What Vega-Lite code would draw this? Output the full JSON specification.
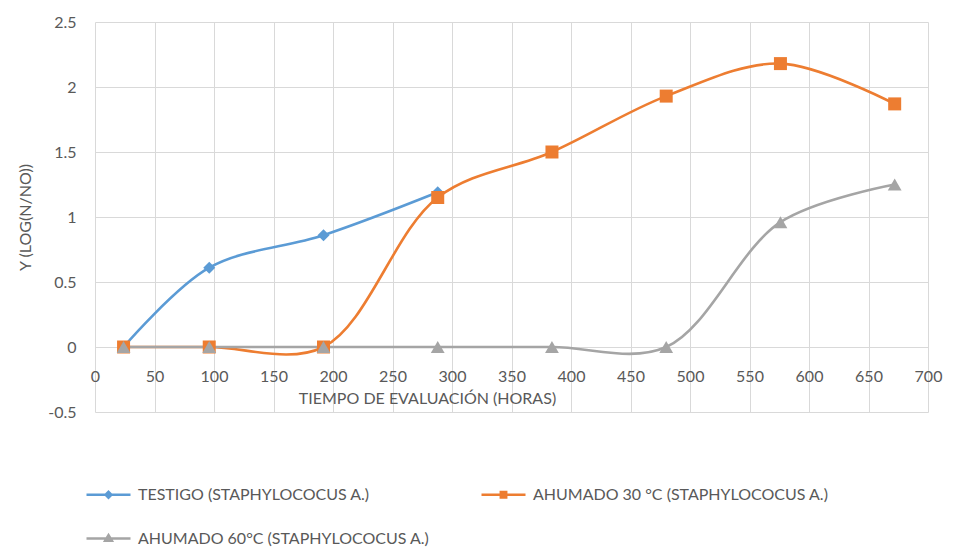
{
  "$schema": "https://vega.github.io/schema/vega-lite/v6.json",
  "width": 833,
  "height": 390,
  "autosize": "none",
  "padding": {"left": 95, "top": 22, "right": 30, "bottom": 138},
  "background": "white",
  "data": {
    "values": [
      {"serie": "TESTIGO (STAPHYLOCOCUS A.)", "horas": 24, "y": 0},
      {"serie": "TESTIGO (STAPHYLOCOCUS A.)", "horas": 96, "y": 0.61},
      {"serie": "TESTIGO (STAPHYLOCOCUS A.)", "horas": 192, "y": 0.86},
      {"serie": "TESTIGO (STAPHYLOCOCUS A.)", "horas": 288, "y": 1.19},
      {"serie": "AHUMADO 30 °C  (STAPHYLOCOCUS A.)", "horas": 24, "y": 0},
      {"serie": "AHUMADO 30 °C  (STAPHYLOCOCUS A.)", "horas": 96, "y": 0},
      {"serie": "AHUMADO 30 °C  (STAPHYLOCOCUS A.)", "horas": 192, "y": 0},
      {"serie": "AHUMADO 30 °C  (STAPHYLOCOCUS A.)", "horas": 288, "y": 1.15},
      {"serie": "AHUMADO 30 °C  (STAPHYLOCOCUS A.)", "horas": 384, "y": 1.5},
      {"serie": "AHUMADO 30 °C  (STAPHYLOCOCUS A.)", "horas": 480, "y": 1.93},
      {"serie": "AHUMADO 30 °C  (STAPHYLOCOCUS A.)", "horas": 576, "y": 2.18},
      {"serie": "AHUMADO 30 °C  (STAPHYLOCOCUS A.)", "horas": 672, "y": 1.87},
      {"serie": "AHUMADO 60°C (STAPHYLOCOCUS A.)", "horas": 24, "y": 0},
      {"serie": "AHUMADO 60°C (STAPHYLOCOCUS A.)", "horas": 96, "y": 0},
      {"serie": "AHUMADO 60°C (STAPHYLOCOCUS A.)", "horas": 192, "y": 0},
      {"serie": "AHUMADO 60°C (STAPHYLOCOCUS A.)", "horas": 288, "y": 0},
      {"serie": "AHUMADO 60°C (STAPHYLOCOCUS A.)", "horas": 384, "y": 0},
      {"serie": "AHUMADO 60°C (STAPHYLOCOCUS A.)", "horas": 480, "y": 0},
      {"serie": "AHUMADO 60°C (STAPHYLOCOCUS A.)", "horas": 576, "y": 0.96},
      {"serie": "AHUMADO 60°C (STAPHYLOCOCUS A.)", "horas": 672, "y": 1.25}
    ]
  },
  "encoding": {
    "x": {
      "field": "horas",
      "type": "quantitative",
      "scale": {"domain": [0, 700], "nice": false, "zero": false},
      "axis": {
        "title": "TIEMPO DE EVALUACIÓN (HORAS)",
        "values": [0, 50, 100, 150, 200, 250, 300, 350, 400, 450, 500, 550, 600, 650, 700],
        "offset": -65,
        "domain": false,
        "ticks": false,
        "labelPadding": 21,
        "labelFlush": false,
        "titleX": 332,
        "titleY": 51,
        "titleAlign": "center",
        "titleBaseline": "middle"
      }
    },
    "y": {
      "field": "y",
      "type": "quantitative",
      "scale": {"domain": [-0.5, 2.5], "nice": false, "zero": false},
      "axis": {
        "title": "Y (LOG(N/NO))",
        "values": [-0.5, 0, 0.5, 1, 1.5, 2, 2.5],
        "labelExpr": "'' + datum.value",
        "domain": false,
        "ticks": false,
        "labelPadding": 19,
        "titlePadding": 14
      }
    },
    "color": {
      "field": "serie",
      "type": "nominal",
      "scale": {
        "domain": ["TESTIGO (STAPHYLOCOCUS A.)", "AHUMADO 30 °C  (STAPHYLOCOCUS A.)", "AHUMADO 60°C (STAPHYLOCOCUS A.)"],
        "range": ["#5B9BD5", "#ED7D31", "#A5A5A5"]
      }
    }
  },
  "layer": [
    {
      "mark": {"type": "line", "interpolate": "catmull-rom", "strokeWidth": 2.6},
      "encoding": {
        "color": {
          "field": "serie",
          "type": "nominal",
          "legend": {
            "title": null,
            "orient": "none",
            "legendX": -10,
            "legendY": 449,
            "direction": "horizontal",
            "columns": 2,
            "columnPadding": 46,
            "rowPadding": 12,
            "symbolSize": 1936,
            "symbolStrokeWidth": 2.6,
            "labelOffset": 6,
            "encode": {
              "symbols": {
                "update": {
                  "shape": {"signal": "datum.value === 'TESTIGO (STAPHYLOCOCUS A.)' ? 'M-1,0H1M0,-0.13L0.13,0L0,0.13L-0.13,0Z' : datum.value === 'AHUMADO 30 °C  (STAPHYLOCOCUS A.)' ? 'M-1,0H1M-0.12,-0.12H0.12V0.12H-0.12Z' : 'M-1,0H1M0,-0.15L0.15,0.1H-0.15Z'"},
                  "fill": {"scale": "color", "field": "value"},
                  "stroke": {"scale": "color", "field": "value"},
                  "fillOpacity": {"value": 1},
                  "strokeWidth": {"value": 2.6}
                }
              }
            }
          }
        }
      }
    },
    {
      "transform": [{"filter": "datum.serie === 'TESTIGO (STAPHYLOCOCUS A.)'"}],
      "mark": {"type": "point", "shape": "diamond", "filled": true, "opacity": 1, "size": 144}
    },
    {
      "transform": [{"filter": "datum.serie === 'AHUMADO 30 °C  (STAPHYLOCOCUS A.)'"}],
      "mark": {"type": "point", "shape": "square", "filled": true, "opacity": 1, "size": 169}
    },
    {
      "transform": [{"filter": "datum.serie === 'AHUMADO 60°C (STAPHYLOCOCUS A.)'"}],
      "mark": {"type": "point", "shape": "triangle-up", "filled": true, "opacity": 1, "size": 190}
    }
  ],
  "config": {
    "font": "Lato",
    "view": {"stroke": null},
    "axis": {
      "gridColor": "#D9D9D9",
      "gridWidth": 1,
      "labelColor": "#595959",
      "labelFont": "Lato",
      "labelFontSize": 16,
      "titleColor": "#595959",
      "titleFont": "Lato",
      "titleFontSize": 16,
      "titleFontWeight": "normal"
    },
    "legend": {
      "labelColor": "#595959",
      "labelFont": "Lato",
      "labelFontSize": 16,
      "labelLimit": 400
    }
  }
}
